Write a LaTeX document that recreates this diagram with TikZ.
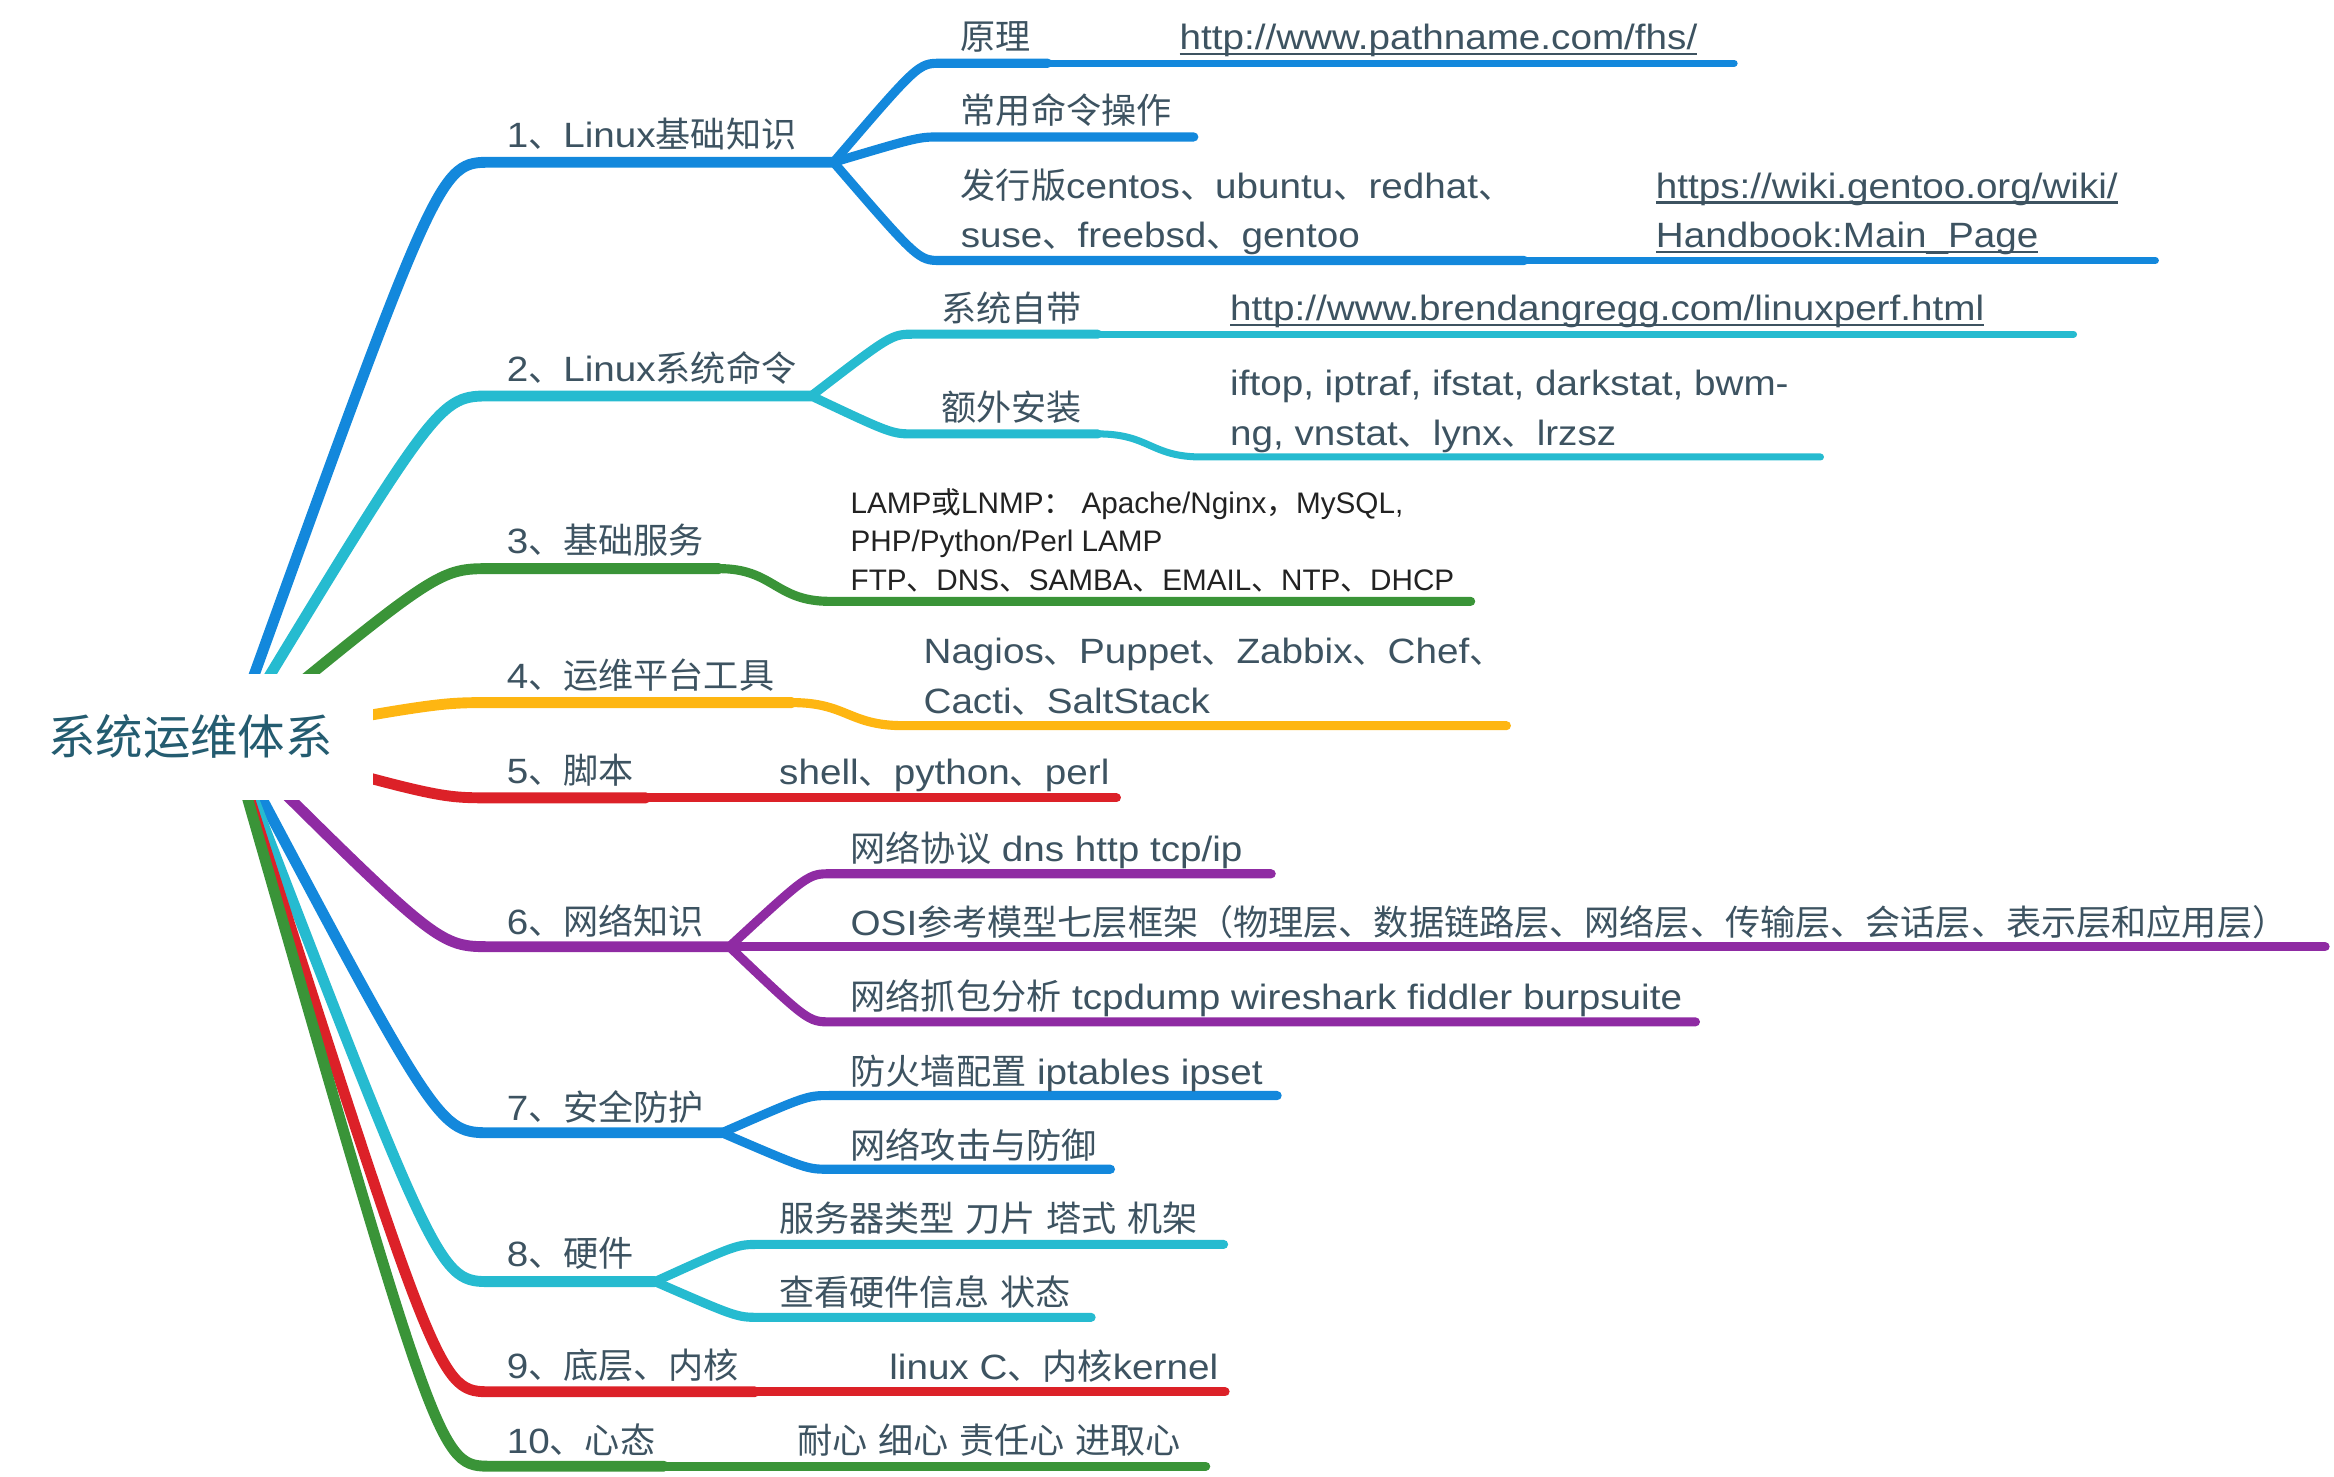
\documentclass[tikz,border=0pt]{standalone}
\usepackage{fontspec}
\setmainfont{Liberation Sans}[FakeStretch=1.1]
\newfontfamily\cjkfont{Noto Sans CJK SC}
\newfontfamily\lampfont{Liberation Sans}
\usetikzlibrary{calc}
\usetikzlibrary{backgrounds}

% switch to the CJK font for CJK characters
\newcommand\latinswitch{\rmfamily}
\XeTeXinterchartokenstate=1
\newXeTeXintercharclass\cjkclass
\newcount\cjkcode
\newcommand\setcjkrange[2]{\cjkcode=#1\relax
  \loop\XeTeXcharclass\cjkcode=\cjkclass
  \ifnum\cjkcode<#2\advance\cjkcode by 1\repeat}
\setcjkrange{"3000}{"303F}
\setcjkrange{"4E00}{"9FFF}
\setcjkrange{"FF00}{"FFEF}
\XeTeXinterchartoks 0 \cjkclass = {\cjkfont}
\XeTeXinterchartoks 4095 \cjkclass = {\cjkfont}
\XeTeXinterchartoks \cjkclass 0 = {\latinswitch}
\XeTeXinterchartoks \cjkclass 4095 = {\latinswitch}

% underlined link text
\newsavebox\linkbox
\newcommand\linktext[1]{\sbox\linkbox{#1}\rlap{\rule[-1.5pt]{\wd\linkbox}{0.7pt}}\usebox\linkbox}

\definecolor{mmblue}{HTML}{1388DC}
\definecolor{mmcyan}{HTML}{26BBD0}
\definecolor{mmgreen}{HTML}{3A9438}
\definecolor{mmyellow}{HTML}{FEB612}
\definecolor{mmred}{HTML}{DC2128}
\definecolor{mmpurple}{HTML}{8F2BA3}
\definecolor{mmtext}{HTML}{3D5361}
\definecolor{mmroot}{HTML}{245C70}
\definecolor{lamptext}{HTML}{222222}

\begin{document}
\begin{tikzpicture}[x=0.014885cm, y=-0.014885cm]
\tikzstyle{topic} = [anchor=base west, inner sep=0pt, text=mmtext, font=\fontsize{10}{14}\selectfont, align=left]
\tikzstyle{lampnote} = [topic, text=lamptext, font={\let\latinswitch\lampfont\lampfont\fontsize{8.45}{10.9}\selectfont}]
\tikzstyle{rootbox} = [fill=white, inner sep=0pt, minimum width=3.66cm, minimum height=1.26cm, text=mmroot, font=\fontsize{13.5}{16}\selectfont]
\tikzstyle{trunk} = [line width=3.1pt, line cap=round]
\tikzstyle{twig} = [line width=2.6pt, line cap=round]
\tikzstyle{leaf} = [line width=2pt, line cap=round]
\useasboundingbox (0,0) rectangle (1568,992);

% root
\node[rootbox] (root) at (128,495) {系统运维体系};
\coordinate (hub) at (155,497);

% main topics
\node[topic] (b1) at (340,99) {1、Linux基础知识};
\node[topic] (b2) at (340,256.5) {2、Linux系统命令};
\node[topic] (b3) at (340,372) {3、基础服务};
\node[topic] (b4) at (340,462.5) {4、运维平台工具};
\node[topic] (b5) at (340,526.5) {5、脚本};
\node[topic] (b6) at (340,628) {6、网络知识};
\node[topic] (b7) at (340,752.5) {7、安全防护};
\node[topic] (b8) at (340,851) {8、硬件};
\node[topic] (b9) at (340,926) {9、底层、内核};
\node[topic] (b10) at (340,976.5) {10、心态};

% subtopics (multi-line ones sit on their last line)
\node[topic] (k11) at (645,33.5) {原理};
\node[topic] (u1) at (792,33.5) {\linktext{http://www.pathname.com/fhs/}};
\node[topic] (k12) at (645,83) {常用命令操作};
\node[topic] (k13) at (645,166.5) {发行版centos、ubuntu、redhat、\\suse、freebsd、gentoo};
\node[topic] (u2) at (1112,166.5) {\linktext{https://wiki.gentoo.org/wiki/}\\\linktext{Handbook:Main\_Page}};
\node[topic] (k21) at (632,216) {系统自带};
\node[topic] (u3) at (826,215.5) {\linktext{http://www.brendangregg.com/linuxperf.html}};
\node[topic] (k22) at (632,282.5) {额外安装};
\node[topic] (k221) at (826,299) {iftop, iptraf, ifstat, darkstat, bwm-\\ng, vnstat、lynx、lrzsz};
\node[lampnote] (k31) at (571,396.5) {LAMP或LNMP： Apache/Nginx，MySQL,\\PHP/Python/Perl LAMP\\FTP、DNS、SAMBA、EMAIL、NTP、DHCP};
\node[topic] (k41) at (620,479) {Nagios、Puppet、Zabbix、Chef、\\Cacti、SaltStack};
\node[topic] (k51) at (523,527) {shell、python、perl};
\node[topic] (k61) at (571,579) {网络协议 dns http tcp/ip};
\node[topic] (k62) at (571,628.5) {OSI参考模型七层框架（物理层、数据链路层、网络层、传输层、会话层、表示层和应用层）};
\node[topic] (k63) at (571,678.5) {网络抓包分析 tcpdump wireshark fiddler burpsuite};
\node[topic] (k71) at (571,728.5) {防火墙配置 iptables ipset};
\node[topic] (k72) at (571,778) {网络攻击与防御};
\node[topic] (k81) at (523,827.5) {服务器类型 刀片 塔式 机架};
\node[topic] (k82) at (523,877) {查看硬件信息 状态};
\node[topic] (k91) at (597,926.5) {linux C、内核kernel};
\node[topic] (k101) at (535,976.5) {耐心 细心 责任心 进取心};

% line ends of the main topics
\coordinate (s1) at (330,109);  \coordinate (e1) at (560,109);
\coordinate (s2) at (330,266);  \coordinate (e2) at (545,266);
\coordinate (s3) at (330,382);  \coordinate (e3) at (483,382);
\coordinate (s4) at (330,472);  \coordinate (e4) at (532,472);
\coordinate (s5) at (330,536);  \coordinate (e5) at (434,536);
\coordinate (s6) at (330,636);  \coordinate (e6) at (490,636);
\coordinate (s7) at (330,761);  \coordinate (e7) at (485,761);
\coordinate (s8) at (330,861);  \coordinate (e8) at (440,861);
\coordinate (s9) at (330,935);  \coordinate (e9) at (507,935);
\coordinate (s10) at (330,985); \coordinate (e10) at (446,985);

% line ends of the subtopics
\coordinate (k11s) at (632,42.5);  \coordinate (k11e) at (704,42.5);  \coordinate (u1e) at (1165,42.5);
\coordinate (k12s) at (632,92);    \coordinate (k12e) at (802,92);
\coordinate (k13s) at (632,175);   \coordinate (k13e) at (1024,175);  \coordinate (u2e) at (1448,175);
\coordinate (k21s) at (614,224.5); \coordinate (k21e) at (737.5,224.5); \coordinate (u3e) at (1393,224.5);
\coordinate (k22s) at (614,291.5); \coordinate (k22e) at (737.5,291.5);
\coordinate (k221s) at (807.5,307); \coordinate (k221e) at (1223,307);
\coordinate (k31s) at (557.5,404); \coordinate (k31e) at (988,404);
\coordinate (k41s) at (607,487.5); \coordinate (k41e) at (1012,487.5);
\coordinate (k51e) at (750,536);
\coordinate (k61s) at (558,587);   \coordinate (k61e) at (854,587);
\coordinate (k62e) at (1562,636);
\coordinate (k63s) at (558,686.5); \coordinate (k63e) at (1139,686.5);
\coordinate (k71s) at (557,736);   \coordinate (k71e) at (858,736);
\coordinate (k72s) at (557,785.5); \coordinate (k72e) at (746,785.5);
\coordinate (k81s) at (510,836);   \coordinate (k81e) at (822,836);
\coordinate (k82s) at (510,885);   \coordinate (k82e) at (733,885);
\coordinate (k91e) at (823,935);
\coordinate (k101e) at (810,985);

\begin{scope}[on background layer]
% root to main topics
\draw[trunk, mmblue] (hub) .. controls ($(s1)+(-35,0)$) .. (s1) -- (e1);
\draw[trunk, mmcyan] (hub) .. controls ($(s2)+(-35,0)$) .. (s2) -- (e2);
\draw[trunk, mmgreen] (hub) .. controls ($(s3)+(-35,0)$) .. (s3) -- (e3);
\draw[trunk, mmyellow] (hub) .. controls ($(s4)+(-35,0)$) .. (s4) -- (e4);
\draw[trunk, mmred] (hub) .. controls ($(s5)+(-35,0)$) .. (s5) -- (e5);
\draw[trunk, mmpurple] (hub) .. controls ($(s6)+(-35,0)$) .. (s6) -- (e6);
\draw[trunk, mmblue] (hub) .. controls ($(s7)+(-35,0)$) .. (s7) -- (e7);
\draw[trunk, mmcyan] (hub) .. controls ($(s8)+(-35,0)$) .. (s8) -- (e8);
\draw[trunk, mmred] (hub) .. controls ($(s9)+(-35,0)$) .. (s9) -- (e9);
\draw[trunk, mmgreen] (hub) .. controls ($(s10)+(-35,0)$) .. (s10) -- (e10);

% 1
\draw[twig, mmblue] (e1) .. controls ($(k11s)+(-15,0)$) .. (k11s) -- (k11e);
\draw[leaf, mmblue] (k11e) -- (u1e);
\draw[twig, mmblue] (e1) .. controls ($(k12s)+(-15,0)$) .. (k12s) -- (k12e);
\draw[twig, mmblue] (e1) .. controls ($(k13s)+(-15,0)$) .. (k13s) -- (k13e);
\draw[leaf, mmblue] (k13e) -- (u2e);
% 2
\draw[twig, mmcyan] (e2) .. controls ($(k21s)+(-15,0)$) .. (k21s) -- (k21e);
\draw[leaf, mmcyan] (k21e) -- (u3e);
\draw[twig, mmcyan] (e2) .. controls ($(k22s)+(-15,0)$) .. (k22s) -- (k22e);
\draw[leaf, mmcyan] (k22e) .. controls +(35,0) and +(-35,0) .. (k221s) -- (k221e);
% 3, 4, 5
\draw[twig, mmgreen] (e3) .. controls +(37,0) and +(-37,0) .. (k31s) -- (k31e);
\draw[twig, mmyellow] (e4) .. controls +(37,0) and +(-37,0) .. (k41s) -- (k41e);
\draw[twig, mmred] (e5) -- (k51e);
% 6
\draw[twig, mmpurple] (e6) .. controls ($(k61s)+(-15,0)$) .. (k61s) -- (k61e);
\draw[twig, mmpurple] (e6) -- (k62e);
\draw[twig, mmpurple] (e6) .. controls ($(k63s)+(-15,0)$) .. (k63s) -- (k63e);
% 7
\draw[twig, mmblue] (e7) .. controls ($(k71s)+(-15,0)$) .. (k71s) -- (k71e);
\draw[twig, mmblue] (e7) .. controls ($(k72s)+(-15,0)$) .. (k72s) -- (k72e);
% 8
\draw[twig, mmcyan] (e8) .. controls ($(k81s)+(-15,0)$) .. (k81s) -- (k81e);
\draw[twig, mmcyan] (e8) .. controls ($(k82s)+(-15,0)$) .. (k82s) -- (k82e);
% 9, 10
\draw[twig, mmred] (e9) -- (k91e);
\draw[twig, mmgreen] (e10) -- (k101e);
\end{scope}
\end{tikzpicture}
\end{document}
